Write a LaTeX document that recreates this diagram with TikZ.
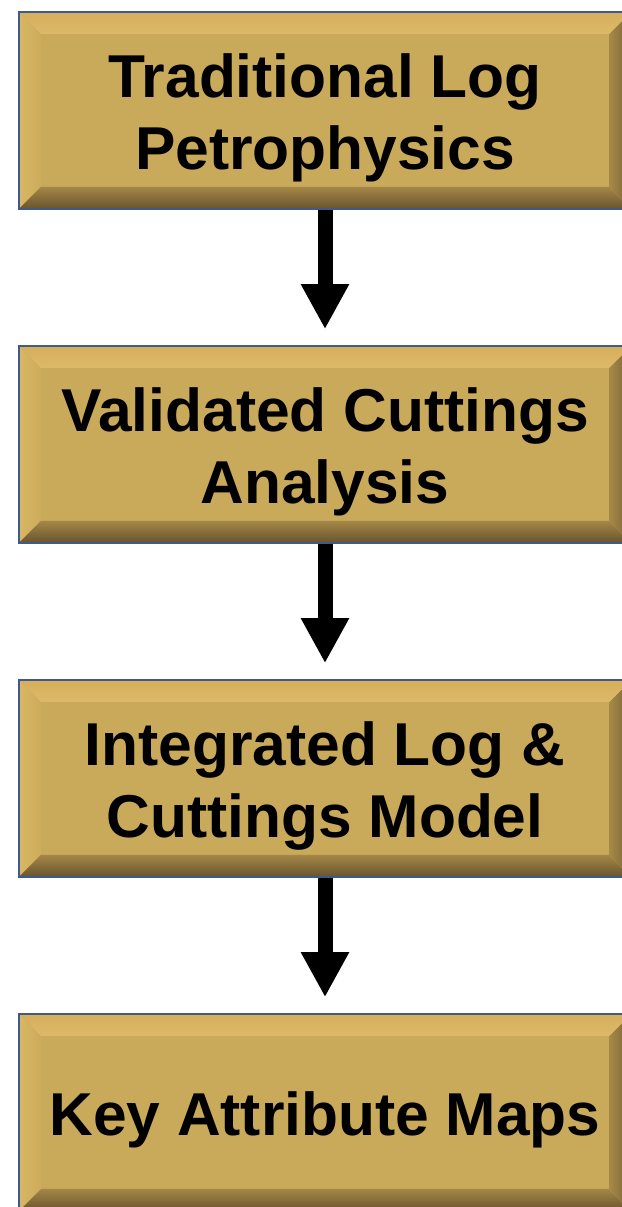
\documentclass[tikz,border=0pt]{standalone}
\usepackage{fontspec}
\setmainfont{Liberation Sans}
\usetikzlibrary{arrows.meta,calc}
\definecolor{face}{RGB}{201,169,90}
\definecolor{bordercol}{RGB}{62,90,140}
\definecolor{topA}{RGB}{214,174,92}
\definecolor{topB}{RGB}{243,212,134}
\definecolor{topC}{RGB}{221,186,104}
\definecolor{leftA}{RGB}{216,182,100}
\definecolor{leftB}{RGB}{204,172,92}
\definecolor{rightA}{RGB}{168,138,72}
\definecolor{rightB}{RGB}{118,98,54}
\definecolor{botA}{RGB}{164,134,70}
\definecolor{botB}{RGB}{104,84,46}
\tikzset{
  goldbox/.style={minimum width=612pt, minimum height=197pt, inner sep=0pt,
    fill=face, draw=bordercol, line width=1.5pt,
    path picture={
      \coordinate (NW) at (path picture bounding box.north west);
      \coordinate (NE) at (path picture bounding box.north east);
      \coordinate (SW) at (path picture bounding box.south west);
      \coordinate (SE) at (path picture bounding box.south east);
      \coordinate (iNW) at ([shift={(22pt,-22pt)}]NW);
      \coordinate (iNE) at ([shift={(-22pt,-22pt)}]NE);
      \coordinate (iSW) at ([shift={(22pt,22pt)}]SW);
      \coordinate (iSE) at ([shift={(-22pt,22pt)}]SE);
      \fill[left color=leftA, right color=leftB] (NW) -- (iNW) -- (iSW) -- (SW) -- cycle;
      \fill[left color=rightA, right color=rightB] (NE) -- (iNE) -- (iSE) -- (SE) -- cycle;
      \fill[top color=topA, middle color=topB, bottom color=topC] (NW) -- (NE) -- (iNE) -- (iNW) -- cycle;
      \fill[top color=botA, bottom color=botB] (SW) -- (SE) -- (iSE) -- (iSW) -- cycle;
    }},
  boxtext/.style={align=center, inner sep=0pt, text=black,
    font=\bfseries\fontsize{60.5}{72}\selectfont},
  flowarrow/.style={draw=black, line width=15pt,
    -{Triangle[width=45pt,length=45pt]}, shorten >=16pt}
}
\begin{document}
\begin{tikzpicture}[x=1pt,y=1pt]
\useasboundingbox[fill=white] (0,0) rectangle (621,1207);
\node[goldbox] (b1) at (325,1096.5) {};
\node[goldbox] (b2) at (325,762.5) {};
\node[goldbox] (b3) at (325,428.5) {};
\node[goldbox] (b4) at (325,94.5) {};
\node[boxtext] (t1) at ([yshift=-7pt]b1.center) {Traditional Log\\Petrophysics};
\node[boxtext] (t2) at ([yshift=-7pt]b2.center) {Validated Cuttings\\Analysis};
\node[boxtext] (t3) at ([yshift=-7pt]b3.center) {Integrated Log \&\\Cuttings Model};
\node[boxtext] (t4) at ([yshift=-7pt]b4.center) {Key Attribute Maps};
\draw[flowarrow] (b1.south) -- (b2.north);
\draw[flowarrow] (b2.south) -- (b3.north);
\draw[flowarrow] (b3.south) -- (b4.north);
\end{tikzpicture}
\end{document}
